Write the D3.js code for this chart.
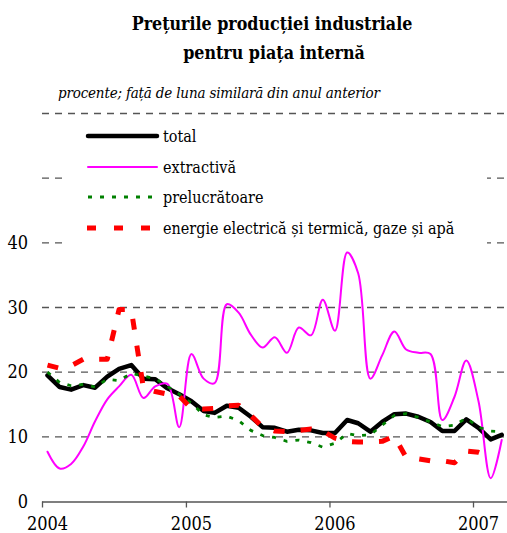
<!DOCTYPE html>
<html>
<head>
<meta charset="utf-8">
<script src="https://cdn.jsdelivr.net/npm/d3@7"></script>
<style>
  body { margin: 0; background: #fff; }
</style>
</head>
<body>
<div id="plot"></div>
<script>
// monthly data, Jan 2004 - Mar 2007 (% yoy)
const total = [19.5, 17.7, 17.3, 18.0, 17.6, 19.3, 20.5, 21.1, 19.0, 18.9, 17.5, 16.6,
               15.5, 14.0, 13.7, 14.8, 14.5, 13.1, 11.5, 11.4, 10.8, 11.1, 11.0, 10.6,
               10.6, 12.6, 12.1, 10.8, 12.3, 13.5, 13.6, 13.1, 12.3, 10.9, 10.9, 12.7,
               11.4, 9.6, 10.3];
const extractiva = [7.7, 5.1, 5.8, 8.5, 12.4, 15.8, 17.8, 19.6, 16.0, 17.8, 18.2, 11.5,
                    22.8, 19.0, 18.3, 30.5, 29.2, 25.8, 23.8, 25.4, 23.0, 26.9, 25.7, 31.2,
                    26.4, 38.5, 35.3, 19.0, 22.6, 26.3, 23.5, 23.0, 22.8, 12.6, 16.2, 21.8,
                    15.5, 3.6, 9.5];
const prelucratoare = [20.0, 18.4, 17.9, 18.1, 17.7, 18.9, 18.7, 19.8, 19.4, 19.0, 17.8, 16.6,
                       15.2, 13.4, 13.0, 13.2, 12.5, 11.0, 10.2, 9.9, 9.3, 9.5, 9.1, 8.4,
                       9.0, 10.5, 10.2, 10.3, 11.8, 13.3, 13.6, 13.0, 12.3, 11.6, 11.8, 12.9,
                       11.5, 10.9, 10.8];
const energie = [21.1, 20.6, 21.0, 22.0, 22.0, 22.0, 29.7, 29.7, 17.5, 17.0, 16.6, 16.3,
                 14.4, 14.3, 14.4, 14.8, 14.9, 13.3, 11.5, 10.9, 10.8, 11.0, 11.2, 10.9,
                 9.8, 9.3, 9.2, 9.2, 9.3, 10.1, 6.8, 6.6, 6.3, 6.3, 6.0, 7.8,
                 7.6, 6.9, null];
const yearLabels = ["2004", "2005", "2006", "2007"];
const yTicks = [0, 10, 20, 30, 40];
const gridValues = [10, 20, 30, 40, 50, 60];
const legendNames = ["total", "extractivă", "prelucrătoare", "energie electrică și termică, gaze și apă"];

const months = d3.timeMonth.range(new Date(2004, 0, 1), new Date(2007, 3, 1));

const width = 507, height = 533;
const serif = "'DejaVu Serif Condensed', 'DejaVu Serif', serif";

var svg = d3.select("#plot")
    .append("svg")
    .attr("width", width)
    .attr("height", height)
    .attr("font-family", serif);

// titles
svg.append("text")
    .attr("x", 272).attr("y", 30)
    .attr("text-anchor", "middle")
    .attr("font-size", 17.7).attr("font-weight", "bold")
    .text("Prețurile producției industriale");
svg.append("text")
    .attr("x", 274).attr("y", 59)
    .attr("text-anchor", "middle")
    .attr("font-size", 17.7).attr("font-weight", "bold")
    .text("pentru piața internă");
svg.append("text")
    .attr("x", 58).attr("y", 98)
    .attr("font-size", 15).attr("font-style", "italic")
    .attr("textLength", 322).attr("lengthAdjust", "spacing")
    .text("procente; față de luna similară din anul anterior");

// scales
var x = d3.scaleTime()
    .domain([new Date(2004, 0, 1), new Date(2007, 0, 1)])
    .range([42, 473]);
var y = d3.scaleLinear()
    .domain([0, 60])
    .range([501.5, 113.5]);

const xMid = (d, i) => x(d3.timeDay.offset(months[i], 14));

// grid
svg.append("g")
    .selectAll("line")
    .data(gridValues)
    .enter()
    .append("line")
        .attr("x1", 42).attr("x2", 507)
        .attr("y1", d => y(d)).attr("y2", d => y(d))
        .attr("stroke", "#555")
        .attr("stroke-width", 1.3)
        .attr("stroke-dasharray", "7,6");

// y labels
svg.append("g")
    .selectAll("text")
    .data(yTicks)
    .enter()
    .append("text")
        .attr("x", 28)
        .attr("y", d => y(d) + 6)
        .attr("text-anchor", "end")
        .attr("font-size", 18)
        .text(d => d);

// x axis
var xAxis = svg.append("g")
    .attr("transform", "translate(0," + y(0) + ")")
    .call(d3.axisBottom(x).ticks(d3.timeYear.every(1)).tickSize(6).tickFormat(""));
xAxis.select(".domain").attr("d", "M42,0.5H507").attr("stroke", "#555").attr("stroke-width", 1.3);
xAxis.selectAll(".tick line").attr("stroke", "#555").attr("stroke-width", 1.3);

svg.append("g")
    .selectAll("text")
    .data(yearLabels)
    .enter()
    .append("text")
        .attr("x", d => x(new Date(+d, 0, 15)))
        .attr("y", 530)
        .attr("text-anchor", "middle")
        .attr("font-size", 18)
        .text(d => d);

// lines
var straight = d3.line()
    .defined(d => d != null)
    .x((d, i) => xMid(d, i))
    .y(d => y(d));
var smooth = d3.line()
    .x((d, i) => xMid(d, i))
    .y(d => y(d))
    .curve(d3.curveCatmullRom.alpha(0.5));

const styles = [
    {data: total, gen: straight, color: "#000", w: 4.5, dash: null, cap: "round"},
    {data: extractiva, gen: smooth, color: "#ff00ff", w: 2, dash: null, cap: "round"},
    {data: prelucratoare, gen: straight, color: "#008000", w: 2.8, dash: "4,8", cap: "butt"},
    {data: energie, gen: straight, color: "#ff0000", w: 5, dash: "11,16", cap: "butt"}
];

styles.forEach(function(s) {
    svg.append("path")
        .datum(s.data)
        .attr("d", s.gen)
        .attr("fill", "none")
        .attr("stroke", s.color)
        .attr("stroke-width", s.w)
        .attr("stroke-linejoin", "round")
        .attr("stroke-linecap", s.cap)
        .attr("stroke-dasharray", s.dash);
});

// legend
svg.append("rect")
    .attr("x", 62).attr("y", 120)
    .attr("width", 425).attr("height", 127)
    .attr("fill", "#fff");

const legendY = [136, 167, 197, 228];
var leg = svg.append("g")
    .selectAll("g")
    .data(legendNames)
    .enter()
    .append("g")
    .attr("transform", (d, i) => "translate(0," + legendY[i] + ")");

leg.append("line")
    .attr("x1", (d, i) => i == 3 ? 87 : 88)
    .attr("x2", 157)
    .attr("stroke", (d, i) => styles[i].color)
    .attr("stroke-width", (d, i) => styles[i].w)
    .attr("stroke-linecap", (d, i) => styles[i].cap)
    .attr("stroke-dasharray", (d, i) => i == 3 ? "9,18" : styles[i].dash);

leg.append("text")
    .attr("x", 163)
    .attr("y", 5.5)
    .attr("font-size", 16)
    .text(d => d);
</script>
</body>
</html>
